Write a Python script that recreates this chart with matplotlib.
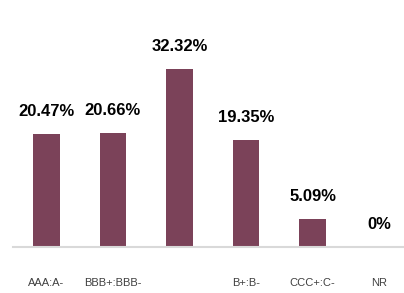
import matplotlib.pyplot as plt
import numpy as np

# rating buckets and share of issuers (%)
categories = ['AAA:A-', 'BBB+:BBB-', '', 'B+:B-', 'CCC+:C-', 'NR']
values = [20.47, 20.66, 32.32, 19.35, 5.09, 0]
labels = ['20.47%', '20.66%', '32.32%', '19.35%', '5.09%', '0%']

plt.rcParams['font.family'] = ['Liberation Sans', 'DejaVu Sans']

fig = plt.figure(figsize=(4.04, 2.93), dpi=100)
ax = fig.add_axes([13/404, 46/293, 391/404, 218/293])

x = np.arange(len(values))
ax.bar(x, values, width=0.4, color='#7B4259', zorder=2)

for xi, v, lab in zip(x, values, labels):
    ax.annotate(lab, (xi, v), xytext=(0, 13), textcoords='offset points',
                ha='center', va='baseline', fontsize=12, fontweight='bold', color='black')

ax.set_xlim(-0.5, 5.37)
ax.set_ylim(0, 39.6)
ax.set_xticks(x)
ax.set_xticklabels(categories, fontsize=8, color='#404040')
ax.tick_params(axis='x', length=0, pad=22)
ax.set_yticks([])
for s in ['top', 'right', 'left']:
    ax.spines[s].set_visible(False)
ax.spines['bottom'].set_color('#D9D9D9')
ax.spines['bottom'].set_linewidth(1.5)

fig.savefig('out.png', dpi=100)
